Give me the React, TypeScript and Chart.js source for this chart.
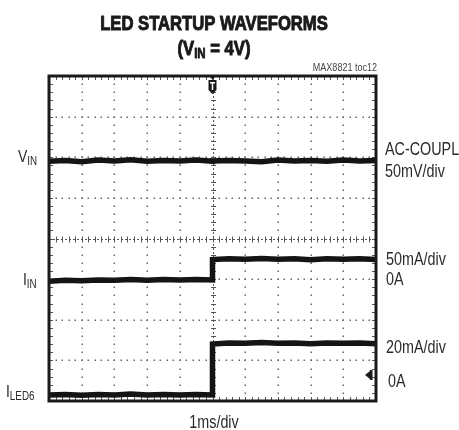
import React, { useEffect, useRef } from "react";
import { Chart, registerables } from "chart.js";

Chart.register(...registerables);

// Time axis in divisions (1 ms/div), step at the trigger point (5 div)
const TIME = [0, 0.5, 1, 1.5, 2, 2.5, 3, 3.5, 4, 4.5, 5, 5, 5.5, 6, 6.5, 7, 7.5, 8, 8.5, 9, 9.5, 10];
// Trace levels in screen divisions (0 = bottom of screen, 8 = top)
const VIN = [5.9, 5.92, 5.89, 5.93, 5.91, 5.94, 5.9, 5.92, 5.91, 5.93, 5.9, 5.91, 5.92, 5.91, 5.89, 5.93, 5.91, 5.92, 5.9, 5.93, 5.91, 5.92];
const IIN = [2.95, 2.97, 2.96, 2.98, 2.97, 2.99, 2.97, 2.99, 2.98, 2.99, 2.98, 3.48, 3.5, 3.49, 3.51, 3.49, 3.5, 3.48, 3.5, 3.49, 3.5, 3.48];
const ILED6 = [0.15, 0.16, 0.14, 0.16, 0.15, 0.17, 0.15, 0.16, 0.15, 0.16, 0.15, 1.4, 1.43, 1.42, 1.44, 1.42, 1.43, 1.41, 1.43, 1.42, 1.43, 1.41];

const X_DIVS = 10;
const Y_DIVS = 8;
const SUB = 5;

const TITLE = "LED STARTUP WAVEFORMS";
const TOC = "MAX8821 toc12";
const RIGHT_LABELS = [
  { text: "AC-COUPLED", x: 385, y: 155 },
  { text: "50mV/div", x: 385, y: 177 },
  { text: "50mA/div", x: 386, y: 265 },
  { text: "0A", x: 386, y: 285 },
  { text: "20mA/div", x: 386, y: 353 },
  { text: "0A", x: 388, y: 387 },
];
const LEFT_LABELS = [
  { main: "V", sub: "IN", x: 18, y: 162 },
  { main: "I", sub: "IN", x: 23, y: 285 },
  { main: "I", sub: "LED6", x: 6, y: 397 },
];
const X_LABEL = "1ms/div";

const FONT = '"Liberation Sans", Arial, sans-serif';
const INK = "#1a1a1a";
const TEXT = "#2b2b2b";
const NARROW = 0.82;

function txt(ctx: CanvasRenderingContext2D, s: string, x: number, y: number, size: number, bold: boolean, align: string, heavy = 0) {
  ctx.save();
  ctx.font = `${bold ? "bold " : ""}${size}px ${FONT}`;
  const w = ctx.measureText(s).width * NARROW;
  const x0 = align === "center" ? x - w / 2 : align === "right" ? x - w : x;
  ctx.translate(x0, y);
  ctx.scale(NARROW, 1);
  ctx.textAlign = "left";
  ctx.textBaseline = "alphabetic";
  ctx.fillText(s, 0, 0);
  if (heavy > 0) {
    ctx.strokeStyle = ctx.fillStyle as string;
    ctx.lineWidth = heavy;
    ctx.lineJoin = "round";
    ctx.strokeText(s, 0, 0);
  }
  ctx.restore();
  return w;
}
function measure(ctx: CanvasRenderingContext2D, s: string, size: number, bold: boolean) {
  ctx.save();
  ctx.font = `${bold ? "bold " : ""}${size}px ${FONT}`;
  const w = ctx.measureText(s).width * NARROW;
  ctx.restore();
  return w;
}

const scopePlugin = {
  id: "scope",
  beforeDatasetsDraw(chart: any) {
    const { ctx, chartArea: a, scales } = chart;
    const xs = scales.x;
    const ys = scales.y;
    ctx.save();
    ctx.fillStyle = "#666";
    for (let i = 1; i < X_DIVS; i++) {
      if (i === X_DIVS / 2) continue;
      const px = Math.round(xs.getPixelForValue(i));
      for (let k = 1; k < Y_DIVS * SUB; k++) {
        const py = Math.round(ys.getPixelForValue(k / SUB));
        ctx.fillRect(px - 0.5, py - 0.5, 1.5, 1.5);
      }
    }
    for (let j = 1; j < Y_DIVS; j++) {
      if (j === Y_DIVS / 2) continue;
      const py = Math.round(ys.getPixelForValue(j));
      for (let k = 1; k < X_DIVS * SUB; k++) {
        const px = Math.round(xs.getPixelForValue(k / SUB));
        ctx.fillRect(px - 0.5, py - 0.5, 1.5, 1.5);
      }
    }
    ctx.strokeStyle = "#555";
    ctx.lineWidth = 1;
    const cx = Math.round(xs.getPixelForValue(X_DIVS / 2)) + 0.5;
    const cy = Math.round(ys.getPixelForValue(Y_DIVS / 2)) + 0.5;
    ctx.setLineDash([2, 2]);
    ctx.beginPath();
    ctx.moveTo(cx, a.top);
    ctx.lineTo(cx, a.bottom);
    ctx.moveTo(a.left, cy);
    ctx.lineTo(a.right, cy);
    ctx.stroke();
    ctx.setLineDash([]);
    ctx.beginPath();
    for (let k = 1; k < Y_DIVS * SUB; k++) {
      const py = Math.round(ys.getPixelForValue(k / SUB)) + 0.5;
      ctx.moveTo(cx - 2.5, py);
      ctx.lineTo(cx + 2.5, py);
    }
    for (let k = 1; k < X_DIVS * SUB; k++) {
      const px = Math.round(xs.getPixelForValue(k / SUB)) + 0.5;
      ctx.moveTo(px, cy - 3);
      ctx.lineTo(px, cy + 3);
    }
    for (let k = 1; k < X_DIVS * SUB; k++) {
      const px = Math.round(xs.getPixelForValue(k / SUB)) + 0.5;
      ctx.moveTo(px, a.top);
      ctx.lineTo(px, a.top + 4);
      ctx.moveTo(px, a.bottom);
      ctx.lineTo(px, a.bottom - 4);
    }
    for (let k = 1; k < Y_DIVS * SUB; k++) {
      const py = Math.round(ys.getPixelForValue(k / SUB)) + 0.5;
      ctx.moveTo(a.left, py);
      ctx.lineTo(a.left + 4, py);
      ctx.moveTo(a.right, py);
      ctx.lineTo(a.right - 4, py);
    }
    ctx.stroke();
    ctx.restore();
  },
  afterDatasetsDraw(chart: any) {
    const { ctx, chartArea: a, scales } = chart;
    const xs = scales.x;
    const ys = scales.y;
    ctx.save();
    ctx.strokeStyle = INK;
    ctx.lineWidth = 3;
    ctx.strokeRect(a.left, a.top, a.right - a.left, a.bottom - a.top);
    const tx = xs.getPixelForValue(X_DIVS / 2);
    ctx.fillStyle = INK;
    ctx.beginPath();
    ctx.moveTo(tx - 4, a.top + 4);
    ctx.lineTo(tx + 4, a.top + 4);
    ctx.lineTo(tx + 4, a.top + 14);
    ctx.lineTo(tx, a.top + 18);
    ctx.lineTo(tx - 4, a.top + 14);
    ctx.closePath();
    ctx.fill();
    ctx.beginPath();
    ctx.moveTo(tx - 3, a.top);
    ctx.lineTo(tx + 3, a.top);
    ctx.lineTo(tx, a.top + 4);
    ctx.closePath();
    ctx.fill();
    ctx.fillStyle = "#fff";
    ctx.fillRect(tx - 2.5, a.top + 6, 5, 1.5);
    ctx.fillRect(tx - 0.75, a.top + 6, 1.5, 8);
    const gy = ys.getPixelForValue(0.64);
    const gx = a.right - 4;
    ctx.fillStyle = INK;
    ctx.beginPath();
    ctx.moveTo(gx - 7, gy);
    ctx.lineTo(gx - 2, gy - 4);
    ctx.lineTo(gx - 2, gy + 4);
    ctx.closePath();
    ctx.fill();
    ctx.fillRect(gx - 2, gy - 5, 2.5, 10);
    ctx.restore();
  },
  afterDraw(chart: any) {
    const { ctx } = chart;
    ctx.save();
    ctx.fillStyle = INK;
    txt(ctx, TITLE, 214, 30, 20.3, true, "center", 1);
    const p1 = "(V";
    const p2 = "IN";
    const p3 = " = 4V)";
    const w1 = measure(ctx, p1, 20.3, true);
    const w2 = measure(ctx, p2, 14, true);
    const w3 = measure(ctx, p3, 20.3, true);
    const sx = 214 - (w1 + w2 + w3) / 2;
    txt(ctx, p1, sx, 55, 20.3, true, "left", 1);
    txt(ctx, p2, sx + w1, 58, 14, true, "left", 0.8);
    txt(ctx, p3, sx + w1 + w2, 55, 20.3, true, "left", 1);
    ctx.fillStyle = "#444";
    txt(ctx, TOC, 377, 71, 11, false, "right");
    ctx.fillStyle = TEXT;
    for (const l of LEFT_LABELS) {
      const mw = txt(ctx, l.main, l.x, l.y, 17, false, "left");
      txt(ctx, l.sub, l.x + mw, l.y + 3, 12, false, "left");
    }
    for (const r of RIGHT_LABELS) {
      txt(ctx, r.text, r.x, r.y, 17.5, false, "left");
    }
    txt(ctx, X_LABEL, 214, 428, 17.5, false, "center");
    ctx.restore();
  },
};

export default function App() {
  const ref = useRef<HTMLCanvasElement | null>(null);
  useEffect(() => {
    if (!ref.current) return;
    const mk = (vals: number[]) => TIME.map((t, i) => ({ x: t, y: vals[i] }));
    const ds = (label: string, vals: number[]) => ({
      label,
      data: mk(vals),
      borderColor: "#141414",
      borderWidth: 5.5,
      pointRadius: 0,
      tension: 0,
      fill: false,
    });
    const chart = new Chart(ref.current, {
      type: "line",
      data: {
        datasets: [ds("VIN", VIN), ds("IIN", IIN), ds("ILED6", ILED6)],
      },
      options: {
        animation: false,
        responsive: false,
        devicePixelRatio: 1,
        layout: { padding: { left: 49, right: 83, top: 76, bottom: 29 } },
        plugins: { legend: { display: false }, tooltip: { enabled: false }, title: { display: false } },
        scales: {
          x: { type: "linear", min: 0, max: X_DIVS, display: false },
          y: { type: "linear", min: 0, max: Y_DIVS, display: false },
        },
      },
      plugins: [scopePlugin],
    } as any);
    return () => chart.destroy();
  }, []);
  return (
    <div style={{ position: "fixed", left: 0, top: 0, width: 459, height: 430, background: "#fff" }}>
      <canvas ref={ref} width={459} height={430} style={{ display: "block" }} />
    </div>
  );
}
